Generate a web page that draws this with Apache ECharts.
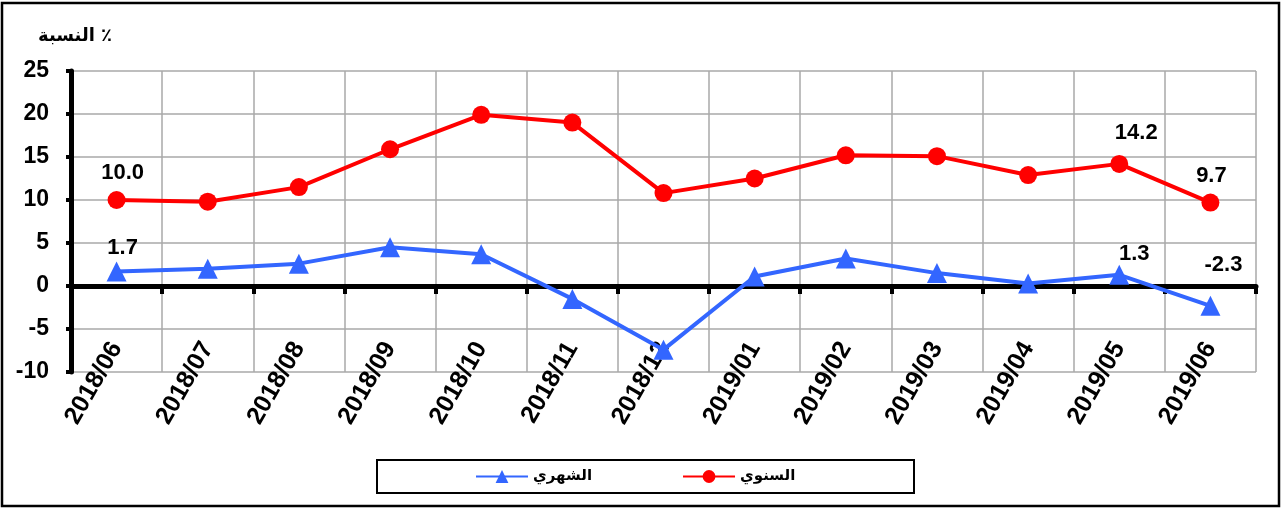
<!DOCTYPE html>
<html>
<head>
<meta charset="utf-8">
<script src="https://cdn.jsdelivr.net/npm/echarts@6/dist/echarts.min.js"></script>
<style>html,body{margin:0;padding:0;background:#fff;}#c{width:1284px;height:509px;}</style>
</head>
<body>
<div id="c"></div>
<script>
var categories = ['2018/06','2018/07','2018/08','2018/09','2018/10','2018/11','2018/12','2019/01','2019/02','2019/03','2019/04','2019/05','2019/06'];
var annual = [10.0, 9.8, 11.5, 15.9, 19.9, 19.0, 10.8, 12.5, 15.2, 15.1, 12.9, 14.2, 9.7];
var monthly = [1.7, 2.0, 2.6, 4.5, 3.7, -1.5, -7.4, 1.1, 3.2, 1.5, 0.3, 1.3, -2.3];
var annualLabeled = [0, 11, 12];
var monthlyLabeled = [0, 11, 12];
var yTicks = [-10, -5, 0, 5, 10, 15, 20, 25];
var seriesNames = ['الشهري', 'السنوي'];
var yTitle = 'النسبة ٪';

var FONT = '"Liberation Sans", Arial, sans-serif';
function labelled(values, idxs, offsets) {
  return values.map(function (v, i) {
    var k = idxs.indexOf(i);
    if (k < 0) return v;
    return {
      value: v,
      label: {
        show: true, position: 'top', offset: offsets[k],
        formatter: function (p) { return p.value.toFixed(1); },
        color: '#000', fontWeight: 'bold', fontSize: 22, fontFamily: FONT
      }
    };
  });
}

var chart = echarts.init(document.getElementById('c'), null, {renderer: 'canvas'});
chart.setOption({
  animation: false,
  backgroundColor: '#fff',
  grid: {left: 71, right: 28, top: 71, bottom: 137, containLabel: false},
  title: {
    text: yTitle, left: 33, top: 22,
    textStyle: {fontSize: 18, fontWeight: 'bold', color: '#000', fontFamily: '"DejaVu Sans", sans-serif'}
  },
  legend: {
    data: seriesNames, left: 470, top: 464, itemWidth: 52, itemHeight: 16, itemGap: 90,
    textStyle: {fontSize: 15, fontWeight: 'bold', color: '#000', fontFamily: '"DejaVu Sans", sans-serif'}
  },
  graphic: [
    {type: 'rect', shape: {x: 2, y: 3, width: 1277, height: 503}, style: {fill: null, stroke: '#000', lineWidth: 2.5}, z: -1},
    {type: 'rect', shape: {x: 377, y: 460, width: 537, height: 33}, style: {fill: null, stroke: '#000', lineWidth: 2}, z: -1}
  ],
  xAxis: [
    {
      type: 'category', data: categories, position: 'bottom', boundaryGap: true,
      axisLine: {show: false, onZero: false},
      axisTick: {show: false},
      splitLine: {show: true, lineStyle: {color: '#a8a8a8', width: 1.5}},
      axisLabel: {rotate: 60, margin: -28, color: '#000', fontWeight: 'bold', fontSize: 25, fontFamily: FONT, interval: 0}
    },
    {
      type: 'category', data: categories, position: 'top', boundaryGap: true,
      axisLine: {show: true, onZero: true, lineStyle: {color: '#000', width: 5}},
      axisTick: {show: true, inside: true, length: 8, lineStyle: {color: '#000', width: 4}},
      axisLabel: {show: false},
      splitLine: {show: false}
    }
  ],
  yAxis: {
    type: 'value', min: yTicks[0], max: yTicks[yTicks.length - 1], interval: 5,
    axisLine: {show: true, lineStyle: {color: '#000', width: 5}},
    axisTick: {show: true, length: 5, lineStyle: {color: '#000', width: 4}},
    splitLine: {show: true, lineStyle: {color: '#a8a8a8', width: 1.5}},
    axisLabel: {margin: 22, color: '#000', fontWeight: 'bold', fontSize: 23, fontFamily: FONT}
  },
  series: [
    {
      name: seriesNames[0], type: 'line', xAxisIndex: 0,
      data: labelled(monthly, monthlyLabeled, [[6, 3], [15, 5], [13, -15]]),
      symbol: 'triangle', symbolSize: 20,
      lineStyle: {color: '#3366ff', width: 4},
      itemStyle: {color: '#3366ff'},
      z: 3
    },
    {
      name: seriesNames[1], type: 'line', xAxisIndex: 0,
      data: labelled(annual, annualLabeled, [[6, -2], [17, -6], [1, -2]]),
      symbol: 'circle', symbolSize: 18,
      lineStyle: {color: '#ff0000', width: 4},
      itemStyle: {color: '#ff0000'},
      z: 4
    }
  ]
});
</script>
</body>
</html>
